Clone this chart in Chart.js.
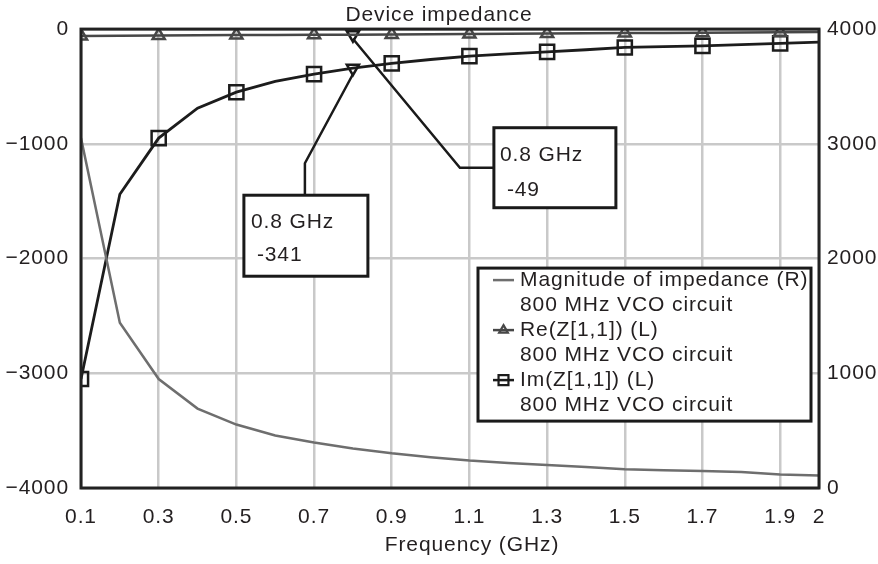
<!DOCTYPE html>
<html>
<head>
<meta charset="utf-8">
<script src="https://cdn.jsdelivr.net/npm/chart.js@4/dist/chart.umd.min.js"></script>
<style>
html,body{margin:0;padding:0;background:#fff;}
canvas{display:block;}
</style>
</head>
<body>
<canvas id="c" width="878" height="564"></canvas>
<script>
// ---------- data ----------
const frequencies = [0.1,0.2,0.3,0.4,0.5,0.6,0.7,0.8,0.9,1.0,1.1,1.2,1.3,1.4,1.5,1.6,1.7,1.8,1.9,2.0];
const reZ11 = [-60,-58,-56,-54,-52,-51,-50,-49,-47,-45,-43,-41,-39,-37,-35,-33,-31,-29,-27,-25];
const imZ11 = [-3050,-1440,-950,-690,-550,-455,-393,-341,-299,-265,-236,-216,-199,-180,-160,-153,-146,-136,-124,-114];
const magnitude = [3050,1440,950,692,553,458,396,344,302,268,239,218,201,182,163,155,148,139,117,110];
const calloutFreqs = [0.8, 0.8];
const calloutValues = [-341, -49];
const calloutLabels = [['0.8 GHz','-341'], ['0.8 GHz','-49']];
const xTickValues = [0.1,0.3,0.5,0.7,0.9,1.1,1.3,1.5,1.7,1.9,2];
const xTickLabels = ['0.1','0.3','0.5','0.7','0.9','1.1','1.3','1.5','1.7','1.9','2'];
const leftTickValues = [-4000,-3000,-2000,-1000,0];
const leftTickLabels = ['\u22124000','\u22123000','\u22122000','\u22121000','0'];
const rightTickValues = [0,1000,2000,3000,4000];
const rightTickLabels = ['0','1000','2000','3000','4000'];
const legendLines = [
  ['Magnitude of impedance (R)','800 MHz VCO circuit'],
  ['Re(Z[1,1]) (L)','800 MHz VCO circuit'],
  ['Im(Z[1,1]) (L)','800 MHz VCO circuit']
];
const titleText = 'Device impedance';
const xTitleText = 'Frequency (GHz)';

// ---------- styles ----------
const TEXT = '#231f20';
const FONT = "'Liberation Sans', Arial, Helvetica, sans-serif";
const FS = 21;
const SPACING = '0.9px';
const GRID = '#c9c9c9';
const MAG_COLOR = '#6e6e6e';
const RE_COLOR = '#474747';
const IM_COLOR = '#1c1c1c';

const pts = (ys) => frequencies.map((f, i) => ({x: f, y: ys[i]}));

const spacingPlugin = {
  id: 'spacing',
  beforeInit(chart){ chart.ctx.letterSpacing = SPACING; },
  beforeLayout(chart){ chart.ctx.letterSpacing = SPACING; },
  beforeDraw(chart){ chart.ctx.letterSpacing = SPACING; }
};

// callout layout (pixel offsets from anchor point)
const calloutLayout = [
  {boxDx:-109, boxDy:127, w:124, h:81, leader:[[0,6],[-48,95],[-48,127]], t1:[7,27], t2:[13,60]},
  {boxDx:141, boxDy:93, w:122, h:80, leader:[[0,4],[107,133],[141,133]], t1:[6,27], t2:[13,62]}
];
const legendLayout = {rightInset:8, top:239, width:333, height:153, firstRow:12, rowH:25, symX:15, symW:21, textX:42};
const xTitleLayout = {dx:22, dy:57};

const overlayPlugin = {
  id: 'overlay',
  afterDatasetsDraw(chart){
    const ctx = chart.ctx, a = chart.chartArea;
    ctx.save();
    ctx.strokeStyle = '#222';
    ctx.lineWidth = 3;
    ctx.strokeRect(a.left, a.top, a.right - a.left, a.bottom - a.top);
    ctx.restore();
  },
  afterDraw(chart){
    const ctx = chart.ctx, a = chart.chartArea;
    const xs = chart.scales.x, ys = chart.scales.y;
    ctx.save();
    ctx.letterSpacing = SPACING;
    ctx.font = FS + 'px ' + FONT;
    ctx.textBaseline = 'middle';
    // x axis title
    ctx.textAlign = 'center';
    ctx.fillStyle = TEXT;
    ctx.fillText(xTitleText, (a.left + a.right) / 2 + xTitleLayout.dx, a.bottom + xTitleLayout.dy);
    ctx.textAlign = 'left';
    // callouts
    calloutFreqs.forEach((f, i) => {
      const px = xs.getPixelForValue(f), py = ys.getPixelForValue(calloutValues[i]);
      const L = calloutLayout[i];
      ctx.strokeStyle = '#1a1a1a';
      ctx.lineWidth = 2.5;
      ctx.beginPath();
      L.leader.forEach((p, k) => { k === 0 ? ctx.moveTo(px + p[0], py + p[1]) : ctx.lineTo(px + p[0], py + p[1]); });
      ctx.stroke();
      const bx = px + L.boxDx, by = py + L.boxDy;
      ctx.fillStyle = '#fff';
      ctx.fillRect(bx, by, L.w, L.h);
      ctx.lineWidth = 3;
      ctx.strokeRect(bx, by, L.w, L.h);
      ctx.fillStyle = TEXT;
      ctx.fillText(calloutLabels[i][0], bx + L.t1[0], by + L.t1[1]);
      ctx.fillText(calloutLabels[i][1], bx + L.t2[0], by + L.t2[1]);
    });
    // legend
    const G = legendLayout;
    const right = a.right - G.rightInset, left = right - G.width, top = a.top + G.top;
    ctx.fillStyle = '#fff';
    ctx.fillRect(left, top, G.width, G.height);
    ctx.strokeStyle = '#1a1a1a';
    ctx.lineWidth = 3;
    ctx.strokeRect(left, top, G.width, G.height);
    legendLines.forEach((lines, i) => {
      const ds = chart.data.datasets[i];
      const y0 = top + G.firstRow + i * 2 * G.rowH;
      ctx.strokeStyle = ds.borderColor;
      ctx.lineWidth = 2.5;
      ctx.beginPath();
      ctx.moveTo(left + G.symX, y0);
      ctx.lineTo(left + G.symX + G.symW, y0);
      ctx.stroke();
      if (ds.legendPoint) {
        ctx.fillStyle = 'rgba(0,0,0,0)';
        ctx.strokeStyle = ds.pointBorderColor;
        ctx.lineWidth = 2.2;
        Chart.helpers.drawPoint(ctx, {pointStyle: ds.pointStyle, radius: ds.legendPoint, borderWidth: 2.2, rotation: 0},
          left + G.symX + G.symW / 2, y0);
      }
      ctx.fillStyle = TEXT;
      ctx.fillText(lines[0], left + G.textX, y0);
      ctx.fillText(lines[1], left + G.textX, y0 + G.rowH);
    });
    ctx.restore();
  }
};

new Chart(document.getElementById('c'), {
  type: 'line',
  data: {
    datasets: [
      {label: legendLines[0][0], data: pts(magnitude), yAxisID: 'y1', borderColor: MAG_COLOR, borderWidth: 2.5,
       pointRadius: 0, tension: 0, clip: 0},
      {label: legendLines[1][0], data: pts(reZ11), yAxisID: 'y', borderColor: RE_COLOR, borderWidth: 2.5,
       pointStyle: 'triangle', pointRadius: c => c.dataIndex % 2 === 0 ? 7 : 0,
       pointBorderColor: RE_COLOR, pointBackgroundColor: 'rgba(0,0,0,0)', pointBorderWidth: 2.5,
       legendPoint: 5, tension: 0, clip: 0},
      {label: legendLines[2][0], data: pts(imZ11), yAxisID: 'y', borderColor: IM_COLOR, borderWidth: 2.8,
       pointStyle: 'rect', pointRadius: c => c.dataIndex % 2 === 0 ? 10 : 0,
       pointBorderColor: IM_COLOR, pointBackgroundColor: 'rgba(0,0,0,0)', pointBorderWidth: 2.5,
       legendPoint: 7, tension: 0, clip: 0},
      {label: 'callouts', data: calloutFreqs.map((f, i) => ({x: f, y: calloutValues[i]})), yAxisID: 'y',
       showLine: false, pointStyle: 'triangle', rotation: 180, pointRadius: 7,
       pointBorderColor: '#1a1a1a', pointBackgroundColor: 'rgba(0,0,0,0)', pointBorderWidth: 2.5, clip: false}
    ]
  },
  options: {
    responsive: false,
    animation: false,
    events: [],
    layout: {padding: 0},
    plugins: {
      legend: {display: false},
      tooltip: {enabled: false},
      title: {display: true, text: titleText, color: TEXT,
              font: {family: FONT, size: FS, weight: 'normal', lineHeight: 1.1},
              padding: {top: 4, bottom: 2}}
    },
    scales: {
      x: {
        type: 'linear', min: 0.1, max: 2,
        afterBuildTicks: s => { s.ticks = xTickValues.map(v => ({value: v})); },
        afterFit: s => { s.height = 76; },
        ticks: {callback: (v, i) => xTickLabels[i], color: TEXT, font: {family: FONT, size: FS},
                padding: 17, maxRotation: 0, autoSkip: false},
        grid: {color: GRID, lineWidth: 2.5, drawTicks: false},
        border: {display: false},
        title: {display: false}
      },
      y: {
        type: 'linear', position: 'left', min: -4000, max: 0,
        afterBuildTicks: s => { s.ticks = leftTickValues.map(v => ({value: v})); },
        afterFit: s => { s.width = 81; },
        ticks: {callback: (v, i) => leftTickLabels[i], color: TEXT, font: {family: FONT, size: FS}, padding: 12},
        grid: {color: GRID, lineWidth: 2.5, drawTicks: false},
        border: {display: false}
      },
      y1: {
        type: 'linear', position: 'right', min: 0, max: 4000,
        afterBuildTicks: s => { s.ticks = rightTickValues.map(v => ({value: v})); },
        afterFit: s => { s.width = 59; },
        ticks: {callback: (v, i) => rightTickLabels[i], color: TEXT, font: {family: FONT, size: FS}, padding: 8},
        grid: {display: false, drawTicks: false},
        border: {display: false}
      }
    }
  },
  plugins: [spacingPlugin, overlayPlugin]
});
</script>
</body>
</html>
